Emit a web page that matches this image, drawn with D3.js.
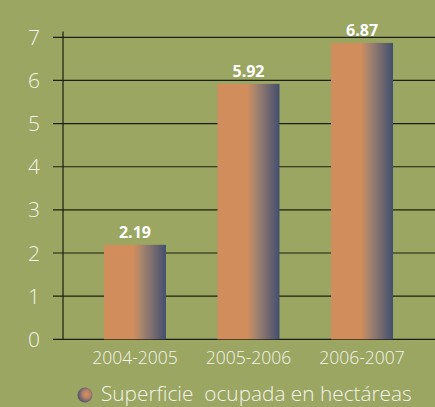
<!DOCTYPE html>
<html>
<head>
  <meta charset="utf-8"/>
  <script src="https://d3js.org/d3.v7.min.js"></script>
  <style>
    html, body { margin: 0; padding: 0; background: #9aa662; overflow: hidden; }
    svg { display: block; font-family: "Open Sans", sans-serif; }
  </style>
</head>
<body>
  <div id="chart"></div>
  <script>
    // chart data
    const periods = ["2004-2005", "2005-2006", "2006-2007"];
    const hectares = [2.19, 5.92, 6.87];
    const yTicks = [0, 1, 2, 3, 4, 5, 6, 7];
    const seriesName = "Superficie  ocupada en hectáreas";

    const width = 435, height = 407;
    const svg = d3.select("#chart").append("svg")
      .attr("width", width)
      .attr("height", height);

    const defs = svg.append("defs");
    const grad = defs.append("linearGradient").attr("id", "barGrad")
      .attr("x1", "0%").attr("x2", "100%").attr("y1", "0%").attr("y2", "0%");
    [[0, "#d18e5c"], [0.48, "#d18e5c"], [0.62, "#a4836f"], [1, "#434f6f"]]
      .forEach(s => grad.append("stop").attr("offset", s[0]).attr("stop-color", s[1]));

    const dot = defs.append("radialGradient").attr("id", "dotGrad")
      .attr("cx", "60%").attr("cy", "45%").attr("r", "60%");
    [[0, "#e0905a"], [0.45, "#b0806a"], [1, "#4a526c"]]
      .forEach(s => dot.append("stop").attr("offset", s[0]).attr("stop-color", s[1]));

    const x = d3.scaleBand()
      .domain(periods)
      .range([63, 434])
      .paddingInner(0.454)
      .paddingOuter(0.361);

    const y = d3.scaleLinear()
      .domain([0, 7])
      .range([339.3, 37.3]);

    // gridlines
    svg.append("g")
      .selectAll("line")
      .data(yTicks)
      .enter().append("line")
      .attr("x1", 53)
      .attr("x2", width)
      .attr("y1", d => y(d))
      .attr("y2", d => y(d))
      .attr("stroke", "#1c1f0c")
      .attr("stroke-width", 1.2);

    // y axis line
    svg.append("line")
      .attr("x1", 63).attr("x2", 63)
      .attr("y1", 31.5).attr("y2", y(0))
      .attr("stroke", "#1c1f0c")
      .attr("stroke-width", 1.2);

    // y tick labels
    svg.append("g")
      .selectAll("text")
      .data(yTicks)
      .enter().append("text")
      .attr("x", 40)
      .attr("y", d => y(d))
      .attr("dy", "0.36em")
      .attr("text-anchor", "end")
      .attr("fill", "#f4f4ea")
      .style("font-size", "21px")
      .style("font-weight", 300)
      .text(d => d);

    // bars
    svg.append("g")
      .selectAll("rect")
      .data(hectares)
      .enter().append("rect")
      .attr("x", (d, i) => x(periods[i]))
      .attr("width", x.bandwidth())
      .attr("y", d => y(d))
      .attr("height", d => y(0) - y(d))
      .attr("fill", "url(#barGrad)");

    // value labels
    svg.append("g")
      .selectAll("text")
      .data(hectares)
      .enter().append("text")
      .attr("x", (d, i) => x(periods[i]) + x.bandwidth() / 2)
      .attr("y", d => y(d) - 7)
      .attr("text-anchor", "middle")
      .attr("fill", "#ffffff")
      .style("font-size", "16px")
      .style("font-weight", "bold")
      .text(d => d.toFixed(2));

    // x labels
    svg.append("g")
      .selectAll("text")
      .data(periods)
      .enter().append("text")
      .attr("x", d => x(d) + x.bandwidth() / 2)
      .attr("y", 364)
      .attr("text-anchor", "middle")
      .attr("fill", "#f4f4ea")
      .style("font-size", "17.5px")
      .style("font-weight", 300)
      .text(d => d);

    // legend
    svg.append("circle")
      .attr("cx", 85).attr("cy", 395).attr("r", 7.5)
      .attr("fill", "url(#dotGrad)");
    svg.append("text")
      .attr("x", 101)
      .attr("y", 401)
      .attr("fill", "#f4f4ea")
      .style("font-size", "20.8px")
      .style("font-weight", 300)
      .attr("xml:space", "preserve")
      .style("white-space", "pre")
      .text(seriesName);
  </script>
</body>
</html>
